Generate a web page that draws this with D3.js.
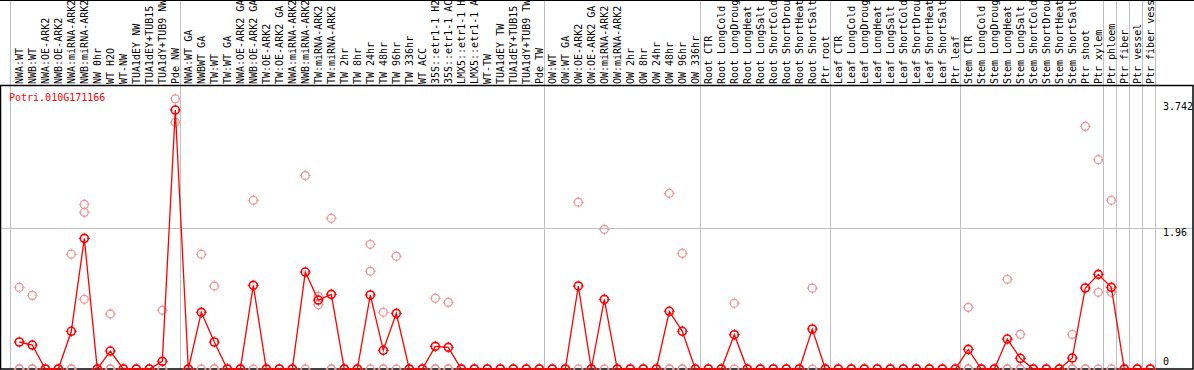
<!DOCTYPE html>
<html>
<head>
<meta charset="utf-8">
<script src="https://cdn.jsdelivr.net/npm/d3@7"></script>
<style>
  html, body { margin: 0; padding: 0; background: #fff; }
  svg { display: block; }
  text { font-family: "DejaVu Sans Mono", monospace; font-size: 10px; }
</style>
</head>
<body>
<svg id="chart" width="1194" height="370"></svg>
<script>
const geneName = "Potri.010G171166";

// category labels as visible in the reference (long ones are truncated at the top edge)
const categories = [
  "NWA:WT","NWB:WT","NWA:OE-ARK2","NWB:OE-ARK2","NWA:miRNA-ARK2","NWB:miRNA-ARK2","NW 0hr","WT H2O","WT-NW","TUA1dEY NW","TUA1dEY+TUB15","TUA1dY+TUB9 NW","Pde NW",
  "NWA:WT GA","NWBWT GA","TW:WT","TW:WT GA","NWA:OE-ARK2 GA","NWB:OE-ARK2 GA","TW:OE-ARK2","TW:OE-ARK2 GA","NWA:miRNA-ARK2","NWB:miRNA-ARK2","TW:miRNA-ARK2","TW:miRNA-ARK2",
  "TW 2hr","TW 8hr","TW 24hr","TW 48hr","TW 96hr","TW 336hr","WT ACC","35S::etr1-1 H2","35S::etr1-1 AC","LMX5::etr1-1 H","LMX5::etr1-1 A","WT-TW","TUA1dEY TW","TUA1dEY+TUB15","TUA1dY+TUB9 TW","Pde TW",
  "OW:WT","OW:WT GA","OW:OE-ARK2","OW:OE-ARK2 GA","OW:miRNA-ARK2","OW:miRNA-ARK2","OW 2hr","OW 8hr","OW 24hr","OW 48hr","OW 96hr","OW 336hr",
  "Root CTR","Root LongCold","Root LongDroug","Root LongHeat","Root LongSalt","Root ShortCold","Root ShortDrou","Root ShortHeat","Root ShortSalt","Ptr root",
  "Leaf CTR","Leaf LongCold","Leaf LongDroug","Leaf LongHeat","Leaf LongSalt","Leaf ShortCold","Leaf ShortDrou","Leaf ShortHeat","Leaf ShortSalt","Ptr leaf",
  "Stem CTR","Stem LongCold","Stem LongDroug","Stem LongHeat","Stem LongSalt","Stem ShortCold","Stem ShortDrou","Stem ShortHeat","Stem ShortSalt","Ptr shoot",
  "Ptr xylem","Ptr phloem","Ptr fiber","Ptr vessel","Ptr fiber vess"
];

// mean expression per category
const means = [
  0.374,0.332,0,0,0.522,1.81,0,0.249,0,0,0,0.106,3.587,
  0,0.785,0.374,0,0,1.159,0,0,0,1.343,0.955,1.034,
  0,0,1.025,0.259,0.771,0,0,0.314,0.300,0,0,0,0,0,0,0,
  0,0,1.15,0,0.965,0,0,0,0,0.799,0.522,0,
  0,0,0.475,0,0,0,0,0,0.554,0,
  0,0,0,0,0,0,0,0,0,0,
  0.272,0,0,0.415,0.148,0,0,0,0.152,1.122,
  1.311,1.131,0,0,0
];

// replicate values per category
const replicates = [
  [1.13,0,0],[1.02,0,0],[0,0],[0,0],[1.59,0,0],[2.28,2.17,0.965],[0,0],[0.762,0,0],[0,0],[0,0],[0,0],[0.813,0],[3.742,3.417],
  [0,0],[1.59,0],[1.15,0,0],[0,0],[0,0],[2.337,0],[0,0],[0,0],[0,0],[2.68,0],[1.01,0.89],[2.087,0,0],
  [0,0],[0,0],[1.727,1.353,0],[0.785,0,0],[1.561,0],[0,0],[0,0],[0.979,0,0],[0.923,0,0],[0,0],[0,0],[0,0],[0,0],[0,0],[0,0],[0,0],
  [0,0],[0,0],[2.31,0],[0,0],[1.935,0],[0,0],[0,0],[0,0],[0,0],[2.434,0,0],[1.602,0,0],[0,0],
  [0,0],[0,0],[0.91,0],[0,0],[0,0],[0,0],[0,0],[0,0],[1.12,0],[0,0],
  [0,0],[0,0],[0,0],[0,0],[0,0],[0,0],[0,0],[0,0],[0,0],[0,0],
  [0.854,0,0],[0,0],[0,0],[1.242,0,0],[0.48,0,0],[0,0],[0,0],[0,0],[0.48,0,0],[3.361,0,0],
  [2.899,1.062,0],[2.337,1.062,0],[0,0],[0,0],[0,0]
];

// index of last category in each group (separator drawn after it)
const groupEnds = [12, 40, 52, 62, 72, 83, 84, 85, 86, 87];
const yTickValues = [3.742, 1.96, 0];
const yTickLabels = ["3.742", "1.96", "0"];
const yMax = 3.92;

const svg = d3.select("#chart");
const W = 1194, H = 370;
const plotTop = 86, plotBottom = 369, plotLeft = 1, plotRight = 1193;

const x = d3.scaleLinear().domain([0, categories.length - 1]).range([19.3, 1150.3]);
const y = d3.scaleLinear().domain([0, yMax]).range([plotBottom, plotTop]);

const grid = "#c0c0c0";

// horizontal gridline at midpoint value
svg.append("line")
  .attr("x1", plotLeft).attr("x2", plotRight)
  .attr("y1", Math.round(y(1.96)) + 0.5).attr("y2", Math.round(y(1.96)) + 0.5)
  .attr("stroke", grid).attr("stroke-width", 1);

// vertical separators
const seps = [x(0) - 9].concat(groupEnds.map(i => x(i) + 5));
svg.selectAll("line.sep").data(seps).enter().append("line")
  .attr("class", "sep")
  .attr("x1", d => Math.round(d) + 0.5).attr("x2", d => Math.round(d) + 0.5)
  .attr("y1", 0).attr("y2", plotBottom)
  .attr("stroke", grid).attr("stroke-width", 1);

// category labels (rotated)
svg.selectAll("text.cat").data(categories).enter().append("text")
  .attr("class", "cat")
  .attr("transform", (d, i) => `translate(${x(i) + 3.5},84) rotate(-90)`)
  .attr("text-anchor", "start")
  .attr("fill", "#000")
  .text(d => d);

// borders
svg.append("line").attr("x1", 0).attr("x2", W).attr("y1", 0.5).attr("y2", 0.5)
  .attr("stroke", "#000").attr("stroke-width", 1);
svg.append("rect")
  .attr("x", plotLeft - 0.5).attr("y", plotTop - 0.5)
  .attr("width", plotRight - plotLeft + 0.5).attr("height", plotBottom - plotTop + 0.5)
  .attr("fill", "none").attr("stroke", "#000").attr("stroke-width", 1.5);

// title
svg.append("text")
  .attr("x", 9).attr("y", 101)
  .attr("fill", "#ff0000")
  .text(geneName);

// right axis labels
const labelOffsets = [11, 8, -4];
svg.selectAll("text.ylab").data(yTickValues).enter().append("text")
  .attr("class", "ylab")
  .attr("x", 1163)
  .attr("y", (d, i) => y(d) + labelOffsets[i])
  .attr("fill", "#000")
  .text((d, i) => yTickLabels[i]);

function marker(g, cx, cy, color, sw) {
  const r = 4;
  g.append("circle").attr("cx", cx).attr("cy", cy).attr("r", r)
    .attr("fill", "none").attr("stroke", color).attr("stroke-width", sw);
  const t = [[0, -1], [0, 1], [-1, 0], [1, 0]];
  t.forEach(([dx, dy]) => {
    g.append("line")
      .attr("x1", cx + dx * (r - 1)).attr("y1", cy + dy * (r - 1))
      .attr("x2", cx + dx * (r + 1.5)).attr("y2", cy + dy * (r + 1.5))
      .attr("stroke", color).attr("stroke-width", 1);
  });
}

// replicate points
const repG = svg.append("g");
replicates.forEach((reps, i) => {
  reps.forEach(v => marker(repG, x(i), y(v), "#f09898", 1.3));
});

// mean line
const line = d3.line().x((d, i) => x(i)).y(d => y(d));
svg.append("path").datum(means)
  .attr("d", line)
  .attr("fill", "none").attr("stroke", "#ff0000").attr("stroke-width", 1.3);

// mean markers
const meanG = svg.append("g");
means.forEach((v, i) => marker(meanG, x(i), y(v), "#ff0000", 1.6));
</script>
</body>
</html>
